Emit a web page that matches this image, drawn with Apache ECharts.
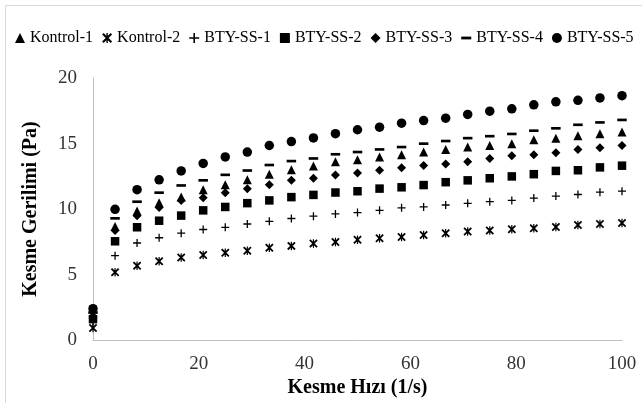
<!DOCTYPE html>
<html>
<head>
<meta charset="utf-8">
<script src="https://cdn.jsdelivr.net/npm/echarts@6/dist/echarts.min.js"></script>
<style>
html,body{margin:0;padding:0;background:#fff;}
#chart{width:642px;height:403px;}
</style>
</head>
<body>
<div id="chart"></div>
<script>
const shearRate = [0, 4.17, 8.33, 12.5, 16.67, 20.83, 25, 29.17, 33.33, 37.5, 41.67, 45.83, 50, 54.17, 58.33, 62.5, 66.67, 70.83, 75, 79.17, 83.33, 87.5, 91.67, 95.83, 100];
const seriesNames = ['Kontrol-1', 'Kontrol-2', 'BTY-SS-1', 'BTY-SS-2', 'BTY-SS-3', 'BTY-SS-4', 'BTY-SS-5'];
const kontrol1 = [2.0, 8.66, 9.86, 10.49, 10.91, 11.48, 11.86, 12.24, 12.66, 12.99, 13.28, 13.61, 13.76, 13.98, 14.15, 14.35, 14.55, 14.73, 14.85, 14.99, 15.28, 15.41, 15.6, 15.75, 15.88];
const kontrol2 = [0.92, 5.17, 5.67, 6.02, 6.3, 6.5, 6.66, 6.82, 7.04, 7.19, 7.37, 7.49, 7.66, 7.77, 7.87, 8.02, 8.16, 8.29, 8.37, 8.46, 8.54, 8.63, 8.78, 8.86, 8.93];
const btySS1 = [1.4, 6.44, 7.41, 7.81, 8.16, 8.44, 8.61, 8.86, 9.06, 9.28, 9.46, 9.63, 9.73, 9.9, 10.09, 10.16, 10.31, 10.44, 10.56, 10.66, 10.84, 10.99, 11.11, 11.29, 11.36];
const btySS2 = [1.6, 7.54, 8.61, 9.11, 9.5, 9.9, 10.16, 10.45, 10.66, 10.91, 11.08, 11.26, 11.36, 11.56, 11.66, 11.83, 12.05, 12.19, 12.35, 12.49, 12.66, 12.91, 12.96, 13.18, 13.31];
const btySS3 = [1.8, 8.37, 9.49, 10.11, 10.66, 10.86, 11.24, 11.55, 11.85, 12.2, 12.35, 12.6, 12.76, 12.96, 13.16, 13.33, 13.43, 13.61, 13.86, 14.06, 14.15, 14.3, 14.55, 14.68, 14.85];
const btySS4 = [2.1, 9.29, 10.56, 11.25, 11.8, 12.19, 12.61, 12.94, 13.36, 13.66, 13.86, 14.18, 14.35, 14.55, 14.73, 14.99, 15.19, 15.41, 15.56, 15.73, 15.98, 16.16, 16.43, 16.61, 16.8];
const btySS5 = [2.4, 9.98, 11.48, 12.23, 12.91, 13.48, 13.98, 14.35, 14.85, 15.15, 15.43, 15.75, 16.05, 16.25, 16.55, 16.75, 16.93, 17.22, 17.47, 17.65, 17.95, 18.18, 18.3, 18.48, 18.65];
const xTicks = [0, 20, 40, 60, 80, 100];
const yTicks = [0, 5, 10, 15, 20];

const allValues = [kontrol1, kontrol2, btySS1, btySS2, btySS3, btySS4, btySS5];

const starPath = 'path://M0,1.5L1.5,0L10,8.5L8.5,10ZM8.5,0L10,1.5L1.5,10L0,8.5ZM4.3,0L5.7,0L5.7,10L4.3,10Z';
const plusPath = 'path://M4.2,0L5.8,0L5.8,4.2L10,4.2L10,5.8L5.8,5.8L5.8,10L4.2,10L4.2,5.8L0,5.8L0,4.2L4.2,4.2Z';
const dashPath = 'path://M0,0L0,0M0,3.6L10,3.6L10,6.4L0,6.4ZM10,10L10,10';
const symbols = ['triangle', starPath, plusPath, 'rect', 'diamond', dashPath, 'circle'];
const sizes = [9, 8.5, 8, 8.5, 9, 9.5, 9.5];

const chart = echarts.init(document.getElementById('chart'), null, {renderer: 'canvas'});
const font = "'Liberation Serif', 'Times New Roman', serif";

chart.setOption({
  backgroundColor: '#fff',
  animation: false,
  graphic: [{
    type: 'rect', silent: true,
    shape: {x: 5.5, y: 5.5, width: 700, height: 500},
    style: {fill: 'none', stroke: '#d9d9d9', lineWidth: 1}
  }],
  legend: {
    left: 10, top: 25, right: 0,
    itemWidth: 10, itemHeight: 10, itemGap: 9,
    textStyle: {fontFamily: font, fontSize: 16, color: '#000'},
    data: seriesNames.map((n, i) => ({name: n, icon: symbols[i]}))
  },
  grid: {left: 93, right: 20, top: 78, bottom: 57, containLabel: false},
  xAxis: {
    type: 'value', min: 0, max: 100, interval: 20,
    name: 'Kesme Hızı (1/s)', nameLocation: 'middle', nameGap: 30,
    nameTextStyle: {fontFamily: font, fontSize: 20, fontWeight: 'bold', color: '#000'},
    axisLine: {show: true, lineStyle: {color: '#bfbfbf', width: 1}},
    axisTick: {show: false},
    splitLine: {show: false},
    axisLabel: {fontFamily: font, fontSize: 19, color: '#333', margin: 14,
      formatter: v => xTicks.includes(v) ? String(v) : ''}
  },
  yAxis: {
    type: 'value', min: 0, max: 20, interval: 5,
    name: 'Kesme Gerilimi (Pa)', nameLocation: 'middle', nameGap: 52,
    nameTextStyle: {fontFamily: font, fontSize: 20, fontWeight: 'bold', color: '#000'},
    axisLine: {show: true, lineStyle: {color: '#bfbfbf', width: 1}},
    axisTick: {show: false},
    splitLine: {show: false},
    axisLabel: {fontFamily: font, fontSize: 19, color: '#333', margin: 16,
      formatter: v => yTicks.includes(v) ? String(v) : ''}
  },
  series: seriesNames.map((n, i) => ({
    name: n, type: 'scatter',
    symbol: symbols[i], symbolSize: sizes[i],
    itemStyle: {color: '#000', opacity: 1},
    data: shearRate.map((x, j) => [x, allValues[i][j]])
  }))
});
</script>
</body>
</html>
